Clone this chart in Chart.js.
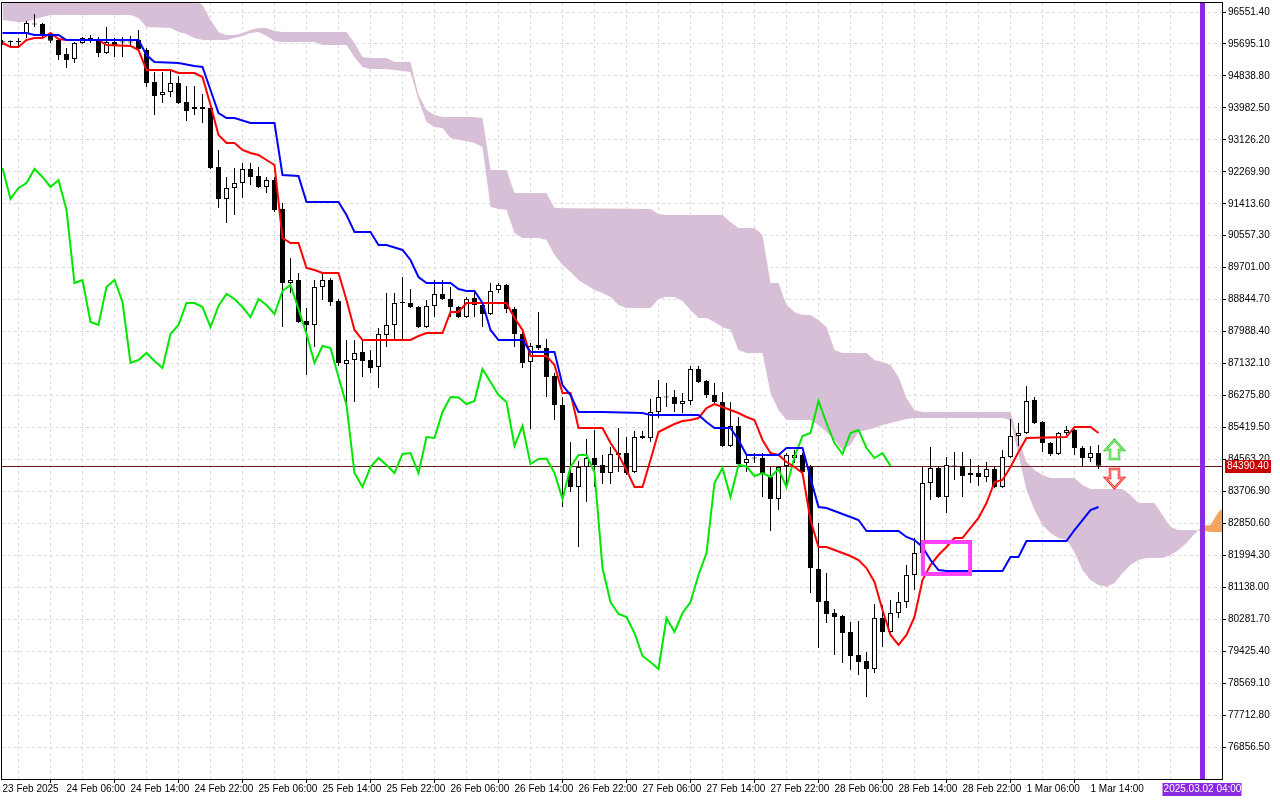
<!DOCTYPE html>
<html>
<head>
<meta charset="utf-8">
<script src="https://cdn.jsdelivr.net/npm/chart.js@4.4.0/dist/chart.umd.min.js"></script>
<style>
  html, body { margin: 0; padding: 0; background: #fff; overflow: hidden; }
  #wrap { width: 1280px; height: 800px; }
</style>
</head>
<body>
<div id="wrap"><canvas id="chart" width="1280" height="800"></canvas></div>
<script>
// H1 candles, bar 0 = 23 Feb 22:00
const opens = [95756,95761,95748,95962,96217,96230,95908,95801,95426,95292,
  95721,95801,95828,95453,95748,95748,95748,95801,95533,94676,
  94328,94408,94649,94140,93953,94006,93979,92398,91541,91836,
  91970,92345,92157,91863,92050,91273,89290,89371,88272,88165,
  89183,89371,88808,87120,87227,87442,87227,87040,87897,88165,
  88781,88754,88647,88111,88674,88996,88862,88647,88379,88888,
  88701,88460,89103,89237,88594,87924,87174,87629,87549,86799,
  86021,84199,83824,84360,84601,84414,84199,84682,84735,84226,
  85191,85137,85834,86236,86236,86048,86129,86986,86665,86289,
  86102,84923,85459,84467,84601,84601,84092,83503,84387,84601,
  84682,84360,81627,80770,80448,80368,79939,79323,79162,78948,
  80314,79939,80448,80743,81466,82056,83932,84333,83556,84387,
  84387,84146,84199,84092,84307,83824,84628,85191,85271,86155,
  85566,85003,84709,85271,85352,84869,84601,84735];
const highs = [95801,95788,95855,96318,96498,96257,95989,95828,95587,95748,
  95882,95935,95882,96150,95855,95882,95908,96069,95587,94944,
  94944,94997,94837,94569,94569,94354,94006,92854,92131,92372,
  92506,92506,92398,92131,92131,91434,89960,89558,88620,89371,
  89558,89424,88862,87763,87763,87763,87495,88085,89022,89022,
  89451,89130,88674,88835,89371,89371,89183,88674,88915,89103,
  88781,89290,89290,89264,88647,88031,87683,88513,87790,86879,
  86236,85030,84521,85110,85352,84682,84896,85405,85164,85325,
  85325,86182,86691,86611,86423,86343,87066,87066,86691,86611,
  86370,86102,85700,84709,84735,84735,84360,84387,84735,84816,
  84735,84414,82860,81520,80556,80395,80207,80234,79403,80689,
  80663,80797,81011,81734,82458,84387,84896,84387,84628,84762,
  84762,84575,84414,84494,84360,84816,85646,85539,86531,86236,
  85593,85030,85298,85459,85378,84923,84923,84950];
const lows = [95667,95641,95614,95855,96150,95855,95721,95265,95051,95185,
  95694,95721,95346,95426,95346,95346,95614,95533,94542,93792,
  94113,94274,94086,93631,93792,93577,92345,91300,90898,91112,
  91568,91916,91836,91702,91193,88111,89022,88219,86825,87576,
  88835,88674,87066,86102,86102,86772,86879,86477,87576,87763,
  87763,88620,88085,88085,88379,88835,88379,88353,88353,88379,
  88111,88433,89022,88487,87576,87013,85378,87495,86236,85620,
  83288,83690,82217,83422,83824,83905,83905,84226,84146,84199,
  85110,85030,85673,85968,85834,85807,86021,86611,86209,86075,
  84896,84896,84414,84226,84467,83556,82645,83208,83824,84467,
  84199,80984,79511,80180,79323,79109,78921,78787,78198,78841,
  79537,79912,80314,80582,81065,81949,83476,83530,83128,84012,
  83556,83932,83851,83958,83798,83798,84601,84923,85244,85512,
  84762,84655,84682,85218,84682,84360,84494,84307];
const closes = [95742,95748,95761,96257,96230,95935,95783,95399,95265,95721,
  95855,95855,95453,95748,95641,95734,95734,95560,94649,94301,
  94408,94649,94113,93899,94006,93953,92372,91541,91836,91970,
  92345,92131,91863,92050,91246,89290,89371,88245,88165,89183,
  89371,88781,87147,87227,87415,87200,87013,87924,88165,88754,
  88754,88647,88111,88674,88996,88862,88647,88379,88862,88701,
  88460,89076,89237,88594,87924,87147,87602,87549,86772,86021,
  84199,83824,84360,84601,84414,84199,84709,84735,84199,85164,
  85137,85834,86236,86222,86048,86129,86986,86638,86289,86102,
  84923,85459,84441,84575,84588,84199,83503,84360,84682,84682,
  84226,81654,80743,80422,80341,79912,79296,79135,78948,80314,
  79939,80448,80743,81466,82056,83932,84333,83556,84414,84374,
  84119,84199,84092,84307,83824,84628,85191,85271,86129,85539,
  85003,84709,85271,85352,84869,84601,84735,84390.40];

// Ichimoku lines, read at the bars where they turn
const tenkanBars = [0,1,2,3,4,5,6,7,8,12,13,16,17,18,21,22,24,25,26,27,28,29,30,31,32,33,34,35,36,37,38,39,40,42,43,44,45,51,52,53,55,56,57,58,63,64,65,66,68,69,70,71,72,75,76,77,78,79,80,81,82,83,84,85,86,87,88,89,90,91,92,93,94,95,96,97,98,99,100,101,102,103,104,105,106,107,108,109,110,111,112,113,114,115,116,117,118,119,120,121,122,123,124,125,126,127,128,133,134,136,137];
const tenkanVals = [95721,95614,95614,95801,95855,95855,95989,95828,95801,95801,95667,95641,95533,94997,94997,94917,94917,94810,94060,93256,93042,93042,92854,92774,92720,92586,92452,90496,90362,90362,89692,89639,89558,89558,88835,88031,87763,87763,87870,87951,87951,88513,88513,88754,88754,88353,88031,87334,87334,87093,86343,86343,85405,85405,85003,84682,84280,83824,83824,84548,85298,85405,85512,85593,85620,85673,85941,86048,85968,85888,85807,85700,85620,85084,84735,84682,84494,84360,84199,82940,82217,82217,82136,82056,81976,81868,81654,81279,80529,79859,79591,79859,80341,81333,81734,82002,82217,82458,82458,82726,82994,83396,83958,84012,84360,84762,85137,85164,85432,85432,85271];
const kijunBars = [0,3,4,7,8,17,18,19,22,24,25,26,27,28,29,31,34,35,37,38,42,43,44,46,47,48,50,51,52,53,56,57,58,59,60,61,62,65,66,69,70,71,72,75,80,81,87,88,89,91,92,93,97,98,100,101,102,103,105,106,107,108,112,113,114,115,116,117,118,125,126,127,128,133,134,135,136,137];
const kijunVals = [95989,95989,95935,95935,95801,95801,95399,95212,95185,95105,95078,94462,93845,93711,93711,93577,93577,92184,92157,91461,91461,91112,90657,90657,90309,90309,90175,89907,89451,89290,89290,89130,89076,89076,88754,88031,87763,87763,87442,87442,86557,86289,85834,85834,85807,85754,85754,85566,85405,85405,85084,84682,84682,84869,84869,84066,83288,83262,83101,83021,82940,82645,82645,82485,82404,82217,81868,81600,81574,81574,81949,81949,82377,82377,82672,82940,83208,83288];
const spanABars = [0,1,2,3,4,5,6,16,17,18,21,22,23,24,25,28,29,30,31,32,33,34,35,39,40,43,44,45,46,48,49,50,51,52,53,54,55,56,57,58,59,60,61,62,63,64,65,67,68,69,70,71,72,73,74,75,76,77,78,81,82,83,84,85,86,87,88,89,90,91,92,93,95,96,97,98,101,102,103,104,105,106,107,108,109,110,111,112,113,114,125,126,127,128,129,130,131,132,133,134,135,136,137,138,139,140,141,142,143,145,146,147,148,149,150,151,152,153];
const spanAVals = [96337,96310,96284,96284,96364,96418,96471,96471,96391,96150,96123,96016,95962,95855,95801,95801,95855,95908,95989,96016,95908,95774,95748,95748,95667,95667,95346,95078,95024,95024,94997,94971,94944,94194,93604,93470,93443,93175,93122,93095,93042,92934,91327,91273,91246,90630,90496,90496,90442,90041,89773,89585,89371,89237,89103,89022,88915,88701,88620,88620,88862,88915,88915,88808,88567,88353,88353,88245,88111,88031,87495,87415,87415,86343,85888,85620,85620,85486,85298,85084,84816,84950,85298,85352,85405,85486,85539,85593,85646,85673,85673,85620,84682,83744,83208,82806,82592,82458,82404,82083,81600,81333,81199,81145,81252,81520,81734,81868,81922,81922,82002,82136,82324,82565,82779,82806,83155,83342];
const spanBBars = [0,24,25,26,27,28,29,30,31,32,33,34,35,43,44,45,46,48,49,51,52,53,54,55,59,60,61,63,64,68,69,81,82,83,90,91,92,94,95,96,97,98,99,100,101,102,103,104,105,108,109,110,111,112,113,114,115,126,127,128,129,130,131,134,135,136,140,141,142,144,145,146,147,149,150,151,153];
const spanBVals = [96860,96860,96739,96337,96016,95935,95935,95989,96069,96123,96123,96042,96016,96016,95721,95346,95319,95319,95212,95212,94328,93926,93792,93738,93738,93711,92318,92318,91702,91702,91300,91273,91139,91112,91112,90925,90764,90764,90576,89290,89290,88701,88513,88433,88433,88299,88111,87495,87415,87415,87227,87174,87093,86772,86209,85888,85834,85834,85084,84494,84280,84146,84066,84066,83878,83771,83771,83610,83396,83396,83074,82753,82672,82672,82645,82619,82619];
const chikouShift = 26;

// axis texts
const priceTicks = [96551.40,95695.10,94838.80,93982.50,93126.20,92269.90,91413.60,90557.30,89701.00,88844.70,87988.40,87132.10,86275.80,85419.50,84563.20,83706.90,82850.60,81994.30,81138.00,80281.70,79425.40,78569.10,77712.80,76856.50];
const timeTickBars = [0,8,16,24,32,40,48,56,64,72,80,88,96,104,112,120,128,136];
const timeTickLabels = ['23 Feb 2025','24 Feb 06:00','24 Feb 14:00','24 Feb 22:00','25 Feb 06:00','25 Feb 14:00','25 Feb 22:00','26 Feb 06:00','26 Feb 14:00','26 Feb 22:00','27 Feb 06:00','27 Feb 14:00','27 Feb 22:00','28 Feb 06:00','28 Feb 14:00','28 Feb 22:00','1 Mar 06:00','1 Mar 14:00'];

// objects on the chart
const lastPrice = closes[closes.length - 1];
const markerBar = 150;
const markerText = '2025.03.02 04:00';
const arrowBar = 139;
const upArrowPrice = 85084;
const downArrowPrice = 83797;
const boxBars = [114.8, 121.2];
const boxPrices = [82404, 81440];

const FONT = { family: 'Liberation Sans', size: 10 };
const THISTLE = '#d8bfd8';
const SANDY = '#f4a460';
const SPAN_A = 5; // dataset index of span A, the cloud is drawn with it
const pts = (bars, vals) => bars.map((b, i) => ({ x: b, y: vals[i] }));
const tickLabel = v => {
    const k = timeTickBars.indexOf(v);
    return k >= 0 ? timeTickLabels[k] : '';
};
const gridBars = [];
for (let b = 0; b <= 152; b += 4) gridBars.push(b);

function drawArrow(ctx, cx, tipY, dir, outer, inner) {
    // dir 1: pointing up (body below the tip), -1: pointing down
    const shape = [[0, 0], [9, 10], [4.5, 10], [4.5, 19], [-4.5, 19], [-4.5, 10], [-9, 10]];
    ctx.beginPath();
    shape.forEach(([dx, dy], i) => {
        const px = cx + dx, py = tipY + dir * dy;
        if (i === 0) ctx.moveTo(px, py); else ctx.lineTo(px, py);
    });
    ctx.closePath();
    ctx.fillStyle = '#fff';
    ctx.fill();
    ctx.lineWidth = 2.5;
    ctx.strokeStyle = outer;
    ctx.stroke();
    ctx.lineWidth = 1;
    ctx.strokeStyle = inner;
    ctx.stroke();
}

const overlays = {
    id: 'overlays',
    afterDatasetDraw(chart, args) {
        // last price line, just above the cloud
        if (args.index !== SPAN_A) return;
        const { ctx, chartArea: a } = chart;
        const py = Math.round(chart.scales.y.getPixelForValue(lastPrice)) + 0.5;
        ctx.save();
        ctx.strokeStyle = '#6e1a1a';
        ctx.lineWidth = 1;
        ctx.beginPath();
        ctx.moveTo(a.left, py);
        ctx.lineTo(a.right, py);
        ctx.stroke();
        ctx.restore();
    },
    afterDatasetsDraw(chart) {
        const { ctx, chartArea: a, scales: { x, y } } = chart;
        ctx.save();
        ctx.beginPath();
        ctx.rect(a.left, a.top, a.right - a.left, a.bottom - a.top);
        ctx.clip();
        // selection box
        const bx1 = x.getPixelForValue(boxBars[0]), bx2 = x.getPixelForValue(boxBars[1]);
        const by1 = y.getPixelForValue(boxPrices[0]), by2 = y.getPixelForValue(boxPrices[1]);
        ctx.strokeStyle = '#ff40ff';
        ctx.lineWidth = 4;
        ctx.strokeRect(bx1 + 2, by1 + 2, bx2 - bx1 - 4, by2 - by1 - 4);
        // arrows
        const ax = x.getPixelForValue(arrowBar);
        drawArrow(ctx, ax, y.getPixelForValue(upArrowPrice), 1, '#2ecc2e', '#b8f5a0');
        drawArrow(ctx, ax, y.getPixelForValue(downArrowPrice), -1, '#ff2020', '#ffb0a0');
        // vertical marker line
        const mx = x.getPixelForValue(markerBar);
        ctx.fillStyle = '#8a2be2';
        ctx.fillRect(mx - 2.5, a.top, 5, a.bottom - a.top);
        ctx.restore();
    },
    afterDraw(chart) {
        const { ctx, chartArea: a, scales: { x, y } } = chart;
        ctx.save();
        ctx.strokeStyle = '#000';
        ctx.lineWidth = 1;
        ctx.strokeRect(a.left - 0.5, a.top - 0.5, a.right - a.left + 1, a.bottom - a.top + 1);
        ctx.font = '10px "Liberation Sans"';
        ctx.textBaseline = 'middle';
        // last price tag
        const py = Math.round(y.getPixelForValue(lastPrice));
        ctx.fillStyle = '#c80000';
        ctx.fillRect(a.right + 3, py - 6, 46, 13);
        ctx.fillStyle = '#fff';
        ctx.textAlign = 'left';
        ctx.fillText(lastPrice.toFixed(2), a.right + 5, py + 0.5);
        // marker time tag
        const mx = x.getPixelForValue(markerBar);
        ctx.fillStyle = '#8a2be2';
        ctx.fillRect(mx - 40, a.bottom + 4, 79, 13);
        ctx.fillStyle = '#fff';
        ctx.textAlign = 'center';
        ctx.fillText(markerText, mx, a.bottom + 10.5);
        ctx.restore();
    }
};

new Chart(document.getElementById('chart'), {
    data: {
        datasets: [
            {
                type: 'line', label: 'Kijun', data: pts(kijunBars, kijunVals),
                borderColor: '#0000ff', borderWidth: 2, pointRadius: 0, tension: 0, order: 0
            },
            {
                type: 'line', label: 'Tenkan', data: pts(tenkanBars, tenkanVals),
                borderColor: '#ff0000', borderWidth: 2, pointRadius: 0, tension: 0, order: 1
            },
            {
                type: 'line', label: 'Chikou',
                data: closes.slice(chikouShift).map((c, i) => ({ x: i, y: c })),
                borderColor: '#00e600', borderWidth: 2, pointRadius: 0, tension: 0, order: 2
            },
            {
                type: 'bar', label: 'Body',
                data: closes.map((c, i) => ({ x: i, y: [opens[i], c] })),
                backgroundColor: ctx => (ctx.raw && ctx.raw.y[1] >= ctx.raw.y[0]) ? '#ffffff' : '#000000',
                borderColor: '#000', borderWidth: 1, borderSkipped: false,
                barThickness: 5, minBarLength: 1, grouped: false, inflateAmount: 0, order: 3
            },
            {
                type: 'bar', label: 'Wick',
                data: highs.map((h, i) => ({ x: i, y: [lows[i], h] })),
                backgroundColor: '#000', borderWidth: 0,
                barThickness: 1, grouped: false, inflateAmount: 0, order: 4
            },
            {
                type: 'line', label: 'Span A', data: pts(spanABars, spanAVals),
                borderColor: 'transparent', borderWidth: 0, pointRadius: 0, tension: 0,
                fill: { target: '+1', above: SANDY, below: THISTLE }, order: 10
            },
            {
                type: 'line', label: 'Span B', data: pts(spanBBars, spanBVals),
                borderColor: 'transparent', borderWidth: 0, pointRadius: 0, tension: 0,
                fill: false, order: 11
            }
        ]
    },
    options: {
        responsive: false,
        animation: false,
        devicePixelRatio: 1,
        layout: { padding: { left: 2, top: 3, right: 0, bottom: 0 } },
        plugins: { legend: { display: false }, tooltip: { enabled: false } },
        scales: {
            x: {
                type: 'linear', min: -0.0625, max: 152.4375, offset: false,
                afterBuildTicks: s => { s.ticks = gridBars.map(v => ({ value: v })); },
                afterFit: s => { s.height = 21; s.paddingLeft = 0; s.paddingRight = 0; },
                grid: {
                    color: '#dcdcdc', tickLength: 4, tickBorderDash: [],
                    tickColor: c => (c.tick && tickLabel(c.tick.value)) ? '#000' : 'rgba(0,0,0,0)'
                },
                border: { display: true, color: '#000', dash: [3, 3] },
                ticks: {
                    autoSkip: false, maxRotation: 0, minRotation: 0, align: 'start', padding: 0,
                    color: '#000', font: FONT, callback: v => tickLabel(v)
                }
            },
            y: {
                position: 'right', min: 76000.5, max: 96792.6,
                afterBuildTicks: s => { s.ticks = priceTicks.map(v => ({ value: v })); },
                afterFit: s => { s.width = 58; s.paddingTop = 0; s.paddingBottom = 0; },
                grid: { color: '#dcdcdc', tickLength: 4, tickColor: '#000', tickBorderDash: [] },
                border: { display: true, color: '#000', dash: [3, 3] },
                ticks: { color: '#000', font: FONT, padding: 2, crossAlign: 'near', callback: v => v.toFixed(2) }
            }
        }
    },
    plugins: [overlays]
});
</script>
</body>
</html>
